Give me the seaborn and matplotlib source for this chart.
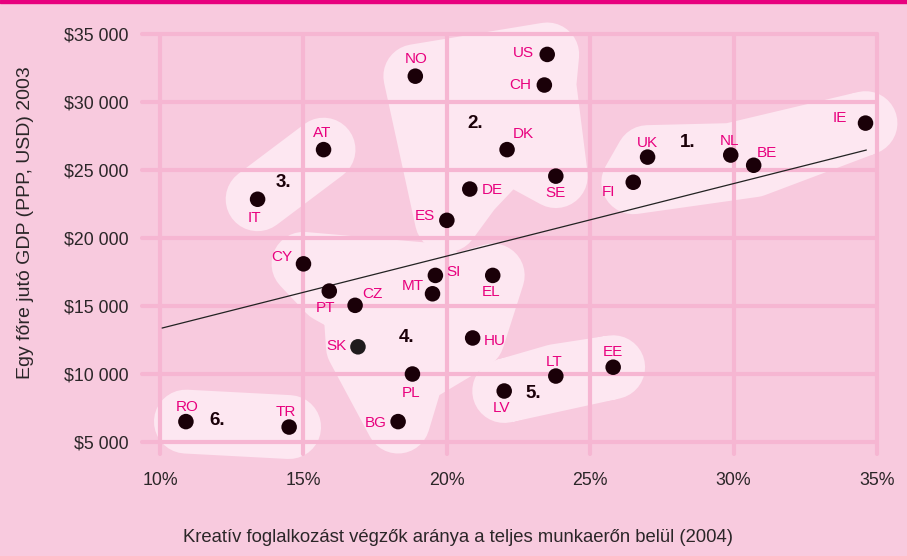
import numpy as np
import pandas as pd
import seaborn as sns
import matplotlib.pyplot as plt
from matplotlib.patches import Polygon, Rectangle

# country codes, creative share of workforce (%), GDP per capita (USD PPP)
countries = ['NO', 'US', 'CH', 'DK', 'DE', 'SE', 'ES',
             'UK', 'FI', 'NL', 'BE', 'IE',
             'AT', 'IT',
             'CY', 'PT', 'CZ', 'MT', 'SI', 'EL', 'SK', 'PL', 'BG', 'HU',
             'LV', 'LT', 'EE',
             'RO', 'TR']
creative = [18.9, 23.5, 23.4, 22.1, 20.8, 23.8, 20.0,
            27.0, 26.5, 29.9, 30.7, 34.6,
            15.7, 13.4,
            15.0, 15.9, 16.8, 19.5, 19.6, 21.6, 16.9, 18.8, 18.3, 20.9,
            22.0, 23.8, 25.8,
            10.9, 14.5]
gdp = [31900, 33500, 31250, 26500, 23600, 24550, 21300,
       25950, 24100, 26100, 25350, 28450,
       26500, 22850,
       18100, 16100, 15050, 15900, 17250, 17250, 12000, 10000, 6500, 12650,
       8750, 9850, 10500,
       6500, 6100]
cluster = [2, 2, 2, 2, 2, 2, 2,
           1, 1, 1, 1, 1,
           3, 3,
           4, 4, 4, 4, 4, 4, 4, 4, 4, 4,
           5, 5, 5,
           6, 6]

cluster_names = ['1.', '2.', '3.', '4.', '5.', '6.']
cluster_label_x = [28.4, 21.0, 14.3, 18.6, 23.0, 12.0]
cluster_label_y = [27050, 28450, 24050, 12650, 8550, 6550]

trend_x = [10.07, 34.63]
trend_y = [13380, 26470]

x_ticks = [10, 15, 20, 25, 30, 35]
y_ticks = [5000, 10000, 15000, 20000, 25000, 30000, 35000]

# label placement: dx, dy in pixels (dy down), horizontal alignment
label_pos = {
    'NO': (1, -17, 'center'), 'AT': (-1, -17, 'center'), 'IT': (-3, 19, 'center'),
    'ES': (-12, -4, 'right'), 'CY': (-11, -7, 'right'), 'US': (-13, -1, 'right'),
    'CH': (-13, 0, 'right'), 'DK': (6, -16, 'left'), 'DE': (12, 1, 'left'),
    'SE': (0, 17, 'center'), 'FI': (-18, 10, 'right'), 'UK': (0, -14, 'center'),
    'NL': (-1, -14, 'center'), 'BE': (3, -12, 'left'), 'IE': (-19, -5, 'right'),
    'SI': (11, -3, 'left'), 'EL': (-2, 17, 'center'), 'MT': (-9, -8, 'right'),
    'PT': (-4, 17, 'center'), 'CZ': (7, -11, 'left'), 'SK': (-11, -1, 'right'),
    'PL': (-1, 19, 'center'), 'BG': (-11, 1, 'right'), 'RO': (1, -15, 'center'),
    'TR': (-3, -15, 'center'), 'HU': (11, 3, 'left'), 'LT': (-2, -14, 'center'),
    'EE': (0, -15, 'center'), 'LV': (-3, 17, 'center'),
}

BG = '#f8cade'
GRID = '#f6b6d2'
BLOB = '#fde7f1'
MAGENTA = '#e8007e'
DOT = '#1a0008'
TEXT = '#2b2628'


def main():
    df = pd.DataFrame({'country': countries, 'creative': creative,
                       'gdp': gdp, 'cluster': cluster})

    sns.set_style('white')
    plt.rcParams['font.family'] = ['Liberation Sans', 'DejaVu Sans']

    fig = plt.figure(figsize=(9.07, 5.56), dpi=100, facecolor=BG)
    ax = fig.add_axes([0.1566, 0.1835, 0.8103, 0.7553])
    ax.set_facecolor('none')
    fig.add_artist(Rectangle((0, 1 - 2.5 / 556), 1, 2.5 / 556,
                             transform=fig.transFigure, color=MAGENTA))

    # blobs around each cluster
    for c, grp in df.groupby('cluster'):
        pts = grp[['creative', 'gdp']].to_numpy(dtype=float)
        cx, cy = pts.mean(axis=0)
        ang = np.arctan2((pts[:, 1] - cy) / 13600 * 28.7, pts[:, 0] - cx)
        pts = pts[np.argsort(ang)]
        ax.add_patch(Polygon(pts, closed=True, fc=BLOB, ec=BLOB, lw=46,
                             joinstyle='round', capstyle='round',
                             zorder=0.2, clip_on=False))

    ax.set_axisbelow(True)
    ax.grid(True, color=GRID, lw=3.0)
    for ln in ax.get_xgridlines() + ax.get_ygridlines():
        ln.set_clip_on(False)

    ax.plot(trend_x, trend_y, color='#222222', lw=0.9, zorder=2)

    palette = {k: ('#1f1b1d' if k == 'SK' else DOT) for k in countries}
    sns.scatterplot(data=df, x='creative', y='gdp', hue='country',
                    palette=palette, s=125, edgecolor='none', legend=False,
                    ax=ax, zorder=3)

    for name, x, y in zip(countries, creative, gdp):
        dx, dy, ha = label_pos[name]
        ax.annotate(name, (x, y), xytext=(dx / 1.389, -dy / 1.389),
                    textcoords='offset points', ha=ha, va='center',
                    fontsize=11, color=MAGENTA, zorder=4)

    for name, x, y in zip(cluster_names, cluster_label_x, cluster_label_y):
        ax.text(x, y, name, ha='center', va='center', fontsize=13.5,
                fontweight='bold', color=DOT, zorder=4)

    ax.set_xlim(9.37, 35.0)
    ax.set_ylim(4120, 35000)
    ax.set_xticks(x_ticks)
    ax.set_xticklabels([f'{t}%' for t in x_ticks])
    ax.set_yticks(y_ticks)
    ax.set_yticklabels([f'${t // 1000} 000' for t in y_ticks])
    ax.tick_params(axis='both', length=0, labelsize=12.8, labelcolor=TEXT)
    ax.tick_params(axis='x', pad=13)
    ax.tick_params(axis='y', pad=10)
    for s in ax.spines.values():
        s.set_visible(False)

    ax.set_xlabel('Kreatív foglalkozást végzők aránya a teljes munkaerőn belül (2004)',
                  fontsize=13.3, color=TEXT)
    ax.xaxis.set_label_coords(0.43, -0.179)
    ax.set_ylabel('Egy főre jutó GDP (PPP, USD) 2003', fontsize=14, color=TEXT)
    ax.yaxis.set_label_coords(-0.147, 0.552)

    plt.savefig('out.png', dpi=100, facecolor=BG)
    plt.close()


if __name__ == "__main__":
    main()
